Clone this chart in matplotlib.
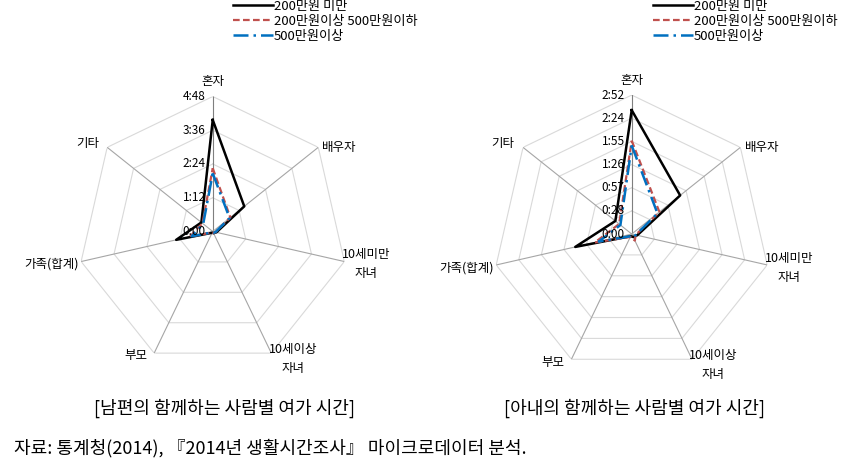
import numpy as np
import matplotlib
matplotlib.use("Agg")
import matplotlib.pyplot as plt
from matplotlib.lines import Line2D

plt.rcParams['font.family'] = ['Noto Sans CJK KR', 'DejaVu Sans']

# -----------------------------------------------------------------------------
# Data (minutes)
# -----------------------------------------------------------------------------
categories = ["혼자", "배우자", "10세미만\n자녀", "10세이상\n자녀", "부모", "가족(합계)", "기타"]
series_names = ["200만원 미만", "200만원이상 500만원이하", "500만원이상"]

husband_low = [238, 86, 8, 4, 3, 80, 31]
husband_mid = [135, 48, 6, 4, 2, 50, 28]
husband_high = [124, 46, 6, 3, 2, 46, 26]

wife_low = [154, 77, 7, 4, 3, 72, 26]
wife_mid = [116, 44, 5, 9, 4, 47, 20]
wife_high = [110, 41, 5, 5, 3, 42, 18]

husband_ticks = [0, 72, 144, 216, 288]
wife_ticks = [0, 28.8, 57.6, 86.4, 115.2, 144, 172.8]

captions = ["[남편의 함께하는 사람별 여가 시간]", "[아내의 함께하는 사람별 여가 시간]"]
source = "자료: 통계청(2014), 『2014년 생활시간조사』 마이크로데이터 분석."

# -----------------------------------------------------------------------------
# Styles
# -----------------------------------------------------------------------------
colors = ["black", "#c0504d", "#0070c0"]
styles = ["-", (0, (3, 1.5)), (0, (6, 2, 1, 2))]
widths = [1.8, 1.6, 1.8]

# label offsets in points (dx, dy, ha, va)
label_pos = [
    (0, 6, "center", "bottom"),
    (3, 0, "left", "center"),
    (-2, -2, "left", "center"),
    (-2, -4, "left", "center"),
    (-5, -2, "right", "center"),
    (-2, -2, "right", "center"),
    (-6, 3, "right", "center"),
]


def fmt_time(m):
    m = int(np.floor(m + 1e-6))
    return f"{m // 60}:{m % 60:02d}"


def draw_radar(rect, values, ticks):
    ax = fig.add_axes(rect, projection="polar")
    n = len(categories)
    theta = np.linspace(0, 2 * np.pi, n, endpoint=False)
    ax.set_theta_offset(np.pi / 2)
    ax.set_theta_direction(-1)
    rmax = ticks[-1]
    ax.set_ylim(0, rmax)
    ax.grid(False)
    ax.spines["polar"].set_visible(False)
    ax.set_xticks([])
    ax.set_yticks([])
    ax.patch.set_alpha(0)

    closed = np.append(theta, theta[0])
    # heptagon rings
    for t in ticks[1:]:
        ax.plot(closed, [t] * (n + 1), color="#d9d9d9", lw=0.8, zorder=1)
    # spokes
    for i, th in enumerate(theta):
        ax.plot([th, th], [0, rmax], color="#7f7f7f" if i == 0 else "#a6a6a6",
                lw=0.8, zorder=1)

    for vals, c, ls, lw in zip(values, colors, styles, widths):
        ax.plot(closed, vals + vals[:1], color=c, linestyle=ls, lw=lw, zorder=3)

    for t in ticks:
        ax.annotate(fmt_time(t), xy=(0, t), xytext=(-5, 0), textcoords="offset points",
                    ha="right", va="center", fontsize=8.5, zorder=4)

    for th, lab, (dx, dy, ha, va) in zip(theta, categories, label_pos):
        ax.annotate(lab, xy=(th, rmax), xytext=(dx, dy), textcoords="offset points",
                    ha=ha, va=va, fontsize=9, multialignment="center",
                    linespacing=1.6, annotation_clip=False)
    return ax


fig = plt.figure(figsize=(8.59, 4.74), dpi=100)

ax1 = draw_radar([0.0905, 0.2268, 270 / 859, 270 / 474],
                 [husband_low, husband_mid, husband_high], husband_ticks)
ax2 = draw_radar([0.5736, 0.213, 278 / 859, 278 / 474],
                 [wife_low, wife_mid, wife_high], wife_ticks)

handles = [Line2D([], [], color=c, linestyle=ls, lw=lw) for c, ls, lw in zip(colors, styles, widths)]
for x0 in (228 / 859, 648 / 859):
    fig.legend(handles, series_names, loc="upper left", bbox_to_anchor=(x0, 1.012),
               frameon=False, fontsize=9.5, handlelength=3.0, handletextpad=0.1,
               labelspacing=0.15, borderaxespad=0)

fig.text(225 / 859, 1 - 408 / 474, captions[0], ha="center", va="center", fontsize=13)
fig.text(635 / 859, 1 - 408 / 474, captions[1], ha="center", va="center", fontsize=13)
fig.text(14 / 859, 1 - 448 / 474, source, ha="left", va="center", fontsize=13)

fig.savefig("out.png", dpi=100)
